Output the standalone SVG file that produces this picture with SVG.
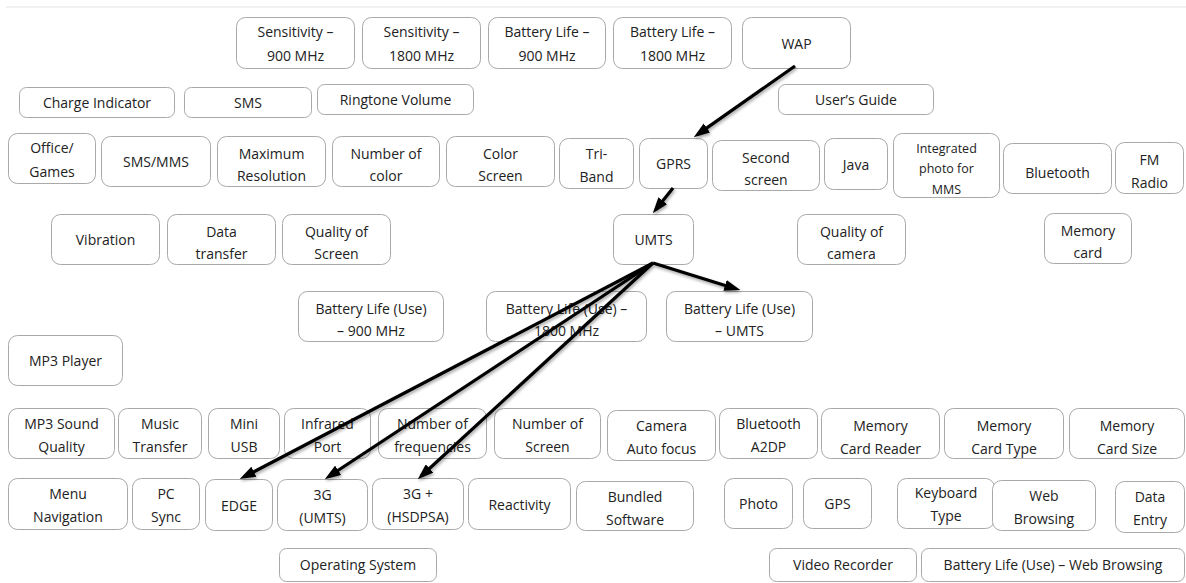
<svg xmlns="http://www.w3.org/2000/svg" width="1186" height="583" viewBox="0 0 1186 583">
<style>
.box{fill:#ffffff;stroke:#a9a9a9;stroke-width:1}
.t{font-family:"Open Sans","Liberation Sans",Arial,sans-serif;font-size:14px;fill:#222222;text-anchor:middle}
.s{font-size:12.5px}
.conn{stroke:#000;stroke-width:3.2;fill:none;marker-end:url(#ah)}
</style>
<defs>
<marker id="ah" viewBox="0 0 10 7" refX="7" refY="3.5" markerWidth="5" markerHeight="3.5" markerUnits="strokeWidth" orient="auto">
<path d="M0,0 L10,3.5 L0,7 z" fill="#000"/>
</marker>
<filter id="sh" x="-10%" y="-10%" width="120%" height="120%">
<feDropShadow dx="1" dy="2" stdDeviation="1.5" flood-color="#000" flood-opacity="0.35"/>
</filter>
</defs>
<rect x="0" y="0" width="1186" height="583" fill="#ffffff"/>
<line x1="6" y1="7" x2="1186" y2="7" stroke="#ececec" stroke-width="1.5"/>

<g id="n-sens900"><rect class="box" x="236.5" y="17.5" width="118" height="51" rx="9"/><text class="t" x="295.5" y="37">Sensitivity –</text><text class="t" x="295.5" y="61">900 MHz</text></g>
<g id="n-sens1800"><rect class="box" x="362.5" y="17.5" width="118" height="51" rx="9"/><text class="t" x="421.5" y="37">Sensitivity –</text><text class="t" x="421.5" y="61">1800 MHz</text></g>
<g id="n-bl900"><rect class="box" x="488.5" y="17.5" width="117" height="51" rx="9"/><text class="t" x="547" y="37">Battery Life –</text><text class="t" x="547" y="61">900 MHz</text></g>
<g id="n-bl1800"><rect class="box" x="613.5" y="17.5" width="118" height="51" rx="9"/><text class="t" x="672.5" y="37">Battery Life –</text><text class="t" x="672.5" y="61">1800 MHz</text></g>
<g id="n-wap"><rect class="box" x="742.5" y="17.5" width="108" height="51" rx="9"/><text class="t" x="796.5" y="49">WAP</text></g>

<g id="n-charge"><rect class="box" x="19.5" y="87.5" width="155" height="30" rx="7"/><text class="t" x="97" y="108">Charge Indicator</text></g>
<g id="n-sms"><rect class="box" x="184.5" y="87.5" width="127" height="30" rx="7"/><text class="t" x="248" y="108">SMS</text></g>
<g id="n-ringtone"><rect class="box" x="317.5" y="84.5" width="156" height="30" rx="7"/><text class="t" x="395.5" y="105">Ringtone Volume</text></g>
<g id="n-userguide"><rect class="box" x="778.5" y="84.5" width="155" height="30" rx="7"/><text class="t" x="856" y="105">User’s Guide</text></g>

<g id="n-office"><rect class="box" x="8.5" y="133.5" width="87" height="50" rx="9"/><text class="t" x="52" y="153">Office/</text><text class="t" x="52" y="177">Games</text></g>
<g id="n-smsmms"><rect class="box" x="101.5" y="136.5" width="109" height="50" rx="9"/><text class="t" x="156" y="167">SMS/MMS</text></g>
<g id="n-maxres"><rect class="box" x="217.5" y="136.5" width="108" height="50" rx="9"/><text class="t" x="271.5" y="159">Maximum</text><text class="t" x="271.5" y="181">Resolution</text></g>
<g id="n-numcolor"><rect class="box" x="332.5" y="136.5" width="107" height="50" rx="9"/><text class="t" x="386" y="159">Number of</text><text class="t" x="386" y="181">color</text></g>
<g id="n-colorscreen"><rect class="box" x="446.5" y="136.5" width="108" height="50" rx="9"/><text class="t" x="500.5" y="159">Color</text><text class="t" x="500.5" y="181">Screen</text></g>
<g id="n-triband"><rect class="box" x="559.5" y="138.5" width="74" height="50" rx="9"/><text class="t" x="596.5" y="159">Tri-</text><text class="t" x="596.5" y="182">Band</text></g>
<g id="n-gprs"><rect class="box" x="639.5" y="138.5" width="68" height="50" rx="9"/><text class="t" x="673.5" y="169">GPRS</text></g>
<g id="n-secondscreen"><rect class="box" x="712.5" y="140.5" width="107" height="50" rx="9"/><text class="t" x="766" y="163">Second</text><text class="t" x="766" y="185">screen</text></g>
<g id="n-java"><rect class="box" x="824.5" y="138.5" width="63" height="51" rx="9"/><text class="t" x="856" y="170">Java</text></g>
<g id="n-integrated"><rect class="box" x="893.5" y="133.5" width="106" height="64" rx="9"/><text class="t s" x="946.5" y="153">Integrated</text><text class="t s" x="946.5" y="173">photo for</text><text class="t s" x="946.5" y="194">MMS</text></g>
<g id="n-bluetooth"><rect class="box" x="1003.5" y="143.5" width="108" height="50" rx="9"/><text class="t" x="1057.5" y="178">Bluetooth</text></g>
<g id="n-fmradio"><rect class="box" x="1115.5" y="142.5" width="68" height="51" rx="9"/><text class="t" x="1149.5" y="165">FM</text><text class="t" x="1149.5" y="188">Radio</text></g>

<g id="n-vibration"><rect class="box" x="51.5" y="214.5" width="108" height="50" rx="9"/><text class="t" x="105.5" y="245">Vibration</text></g>
<g id="n-datatransfer"><rect class="box" x="167.5" y="214.5" width="108" height="50" rx="9"/><text class="t" x="221.5" y="237">Data</text><text class="t" x="221.5" y="259">transfer</text></g>
<g id="n-qualityscreen"><rect class="box" x="282.5" y="214.5" width="108" height="50" rx="9"/><text class="t" x="336.5" y="237">Quality of</text><text class="t" x="336.5" y="259">Screen</text></g>
<g id="n-umts"><rect class="box" x="613.5" y="214.5" width="80" height="50" rx="9"/><text class="t" x="653.5" y="245">UMTS</text></g>
<g id="n-qualitycamera"><rect class="box" x="797.5" y="214.5" width="108" height="50" rx="9"/><text class="t" x="851.5" y="237">Quality of</text><text class="t" x="851.5" y="259">camera</text></g>
<g id="n-memorycard"><rect class="box" x="1044.5" y="213.5" width="87" height="50" rx="9"/><text class="t" x="1088" y="236">Memory</text><text class="t" x="1088" y="258">card</text></g>

<g id="n-blu900"><rect class="box" x="298.5" y="291.5" width="145" height="50" rx="9"/><text class="t" x="371" y="314">Battery Life (Use)</text><text class="t" x="371" y="336">– 900 MHz</text></g>
<g id="n-blu1800"><rect class="box" x="486.5" y="291.5" width="160" height="50" rx="9"/><text class="t" x="566.5" y="314">Battery Life (Use) –</text><text class="t" x="566.5" y="336">1800 MHz</text></g>
<g id="n-bluumts"><rect class="box" x="666.5" y="291.5" width="146" height="50" rx="9"/><text class="t" x="739.5" y="314">Battery Life (Use)</text><text class="t" x="739.5" y="336">– UMTS</text></g>
<g id="n-mp3player"><rect class="box" x="8.5" y="335.5" width="114" height="50" rx="9"/><text class="t" x="65.5" y="366">MP3 Player</text></g>

<g id="n-mp3sound"><rect class="box" x="8.5" y="408.5" width="106" height="50" rx="9"/><text class="t" x="61.5" y="429">MP3 Sound</text><text class="t" x="61.5" y="452">Quality</text></g>
<g id="n-musictransfer"><rect class="box" x="118.5" y="408.5" width="83" height="50" rx="9"/><text class="t" x="160" y="429">Music</text><text class="t" x="160" y="452">Transfer</text></g>
<g id="n-miniusb"><rect class="box" x="208.5" y="408.5" width="71" height="50" rx="9"/><text class="t" x="244" y="429">Mini</text><text class="t" x="244" y="452">USB</text></g>
<g id="n-infrared"><rect class="box" x="284.5" y="408.5" width="86" height="50" rx="9"/><text class="t" x="327.5" y="429">Infrared</text><text class="t" x="327.5" y="452">Port</text></g>
<g id="n-numfreq"><rect class="box" x="378.5" y="408.5" width="108" height="50" rx="9"/><text class="t" x="432.5" y="429">Number of</text><text class="t" x="432.5" y="452">frequencies</text></g>
<g id="n-numscreen"><rect class="box" x="494.5" y="408.5" width="106" height="50" rx="9"/><text class="t" x="547.5" y="429">Number of</text><text class="t" x="547.5" y="452">Screen</text></g>
<g id="n-cameraaf"><rect class="box" x="607.5" y="410.5" width="108" height="50" rx="9"/><text class="t" x="661.5" y="431">Camera</text><text class="t" x="661.5" y="454">Auto focus</text></g>
<g id="n-bta2dp"><rect class="box" x="719.5" y="408.5" width="98" height="50" rx="9"/><text class="t" x="768.5" y="429">Bluetooth</text><text class="t" x="768.5" y="452">A2DP</text></g>
<g id="n-mcreader"><rect class="box" x="821.5" y="408.5" width="118" height="50" rx="9"/><text class="t" x="880.5" y="431">Memory</text><text class="t" x="880.5" y="454">Card Reader</text></g>
<g id="n-mctype"><rect class="box" x="944.5" y="408.5" width="119" height="50" rx="9"/><text class="t" x="1004" y="431">Memory</text><text class="t" x="1004" y="454">Card Type</text></g>
<g id="n-mcsize"><rect class="box" x="1069.5" y="408.5" width="115" height="50" rx="9"/><text class="t" x="1127" y="431">Memory</text><text class="t" x="1127" y="454">Card Size</text></g>

<g id="n-menunav"><rect class="box" x="8.5" y="478.5" width="119" height="51" rx="9"/><text class="t" x="68" y="499">Menu</text><text class="t" x="68" y="522">Navigation</text></g>
<g id="n-pcsync"><rect class="box" x="132.5" y="478.5" width="67" height="51" rx="9"/><text class="t" x="166" y="499">PC</text><text class="t" x="166" y="522">Sync</text></g>
<g id="n-edge"><rect class="box" x="205.5" y="479.5" width="67" height="51" rx="9"/><text class="t" x="239" y="511">EDGE</text></g>
<g id="n-3g"><rect class="box" x="277.5" y="479.5" width="90" height="51" rx="9"/><text class="t" x="322.5" y="500">3G</text><text class="t" x="322.5" y="523">(UMTS)</text></g>
<g id="n-3gplus"><rect class="box" x="372.5" y="478.5" width="91" height="51" rx="9"/><text class="t" x="418" y="499">3G +</text><text class="t" x="418" y="522">(HSDPSA)</text></g>
<g id="n-reactivity"><rect class="box" x="468.5" y="478.5" width="102" height="51" rx="9"/><text class="t" x="519.5" y="510">Reactivity</text></g>
<g id="n-bundled"><rect class="box" x="576.5" y="481.5" width="117" height="49" rx="9"/><text class="t" x="635" y="502">Bundled</text><text class="t" x="635" y="525">Software</text></g>
<g id="n-photo"><rect class="box" x="724.5" y="478.5" width="68" height="50" rx="9"/><text class="t" x="758.5" y="509">Photo</text></g>
<g id="n-gps"><rect class="box" x="803.5" y="478.5" width="68" height="50" rx="9"/><text class="t" x="837.5" y="509">GPS</text></g>
<g id="n-keyboard"><rect class="box" x="897.5" y="478.5" width="97" height="50" rx="9"/><text class="t" x="946" y="498">Keyboard</text><text class="t" x="946" y="521">Type</text></g>
<g id="n-web"><rect class="box" x="992.5" y="480.5" width="103" height="50" rx="9"/><text class="t" x="1044" y="501">Web</text><text class="t" x="1044" y="524">Browsing</text></g>
<g id="n-dataentry"><rect class="box" x="1115.5" y="481.5" width="69" height="51" rx="9"/><text class="t" x="1150" y="502">Data</text><text class="t" x="1150" y="525">Entry</text></g>

<g id="n-os"><rect class="box" x="279.5" y="548.5" width="157" height="33" rx="7"/><text class="t" x="358" y="570">Operating System</text></g>
<g id="n-video"><rect class="box" x="769.5" y="548.5" width="147" height="33" rx="7"/><text class="t" x="843" y="570">Video Recorder</text></g>
<g id="n-blweb"><rect class="box" x="921.5" y="548.5" width="263" height="33" rx="7"/><text class="t" x="1053" y="570">Battery Life (Use) – Web Browsing</text></g>

<g id="connectors" filter="url(#sh)">
<line class="conn" x1="795" y1="66" x2="697.7" y2="134.4"/>
<line class="conn" x1="673" y1="188" x2="655.8" y2="209.5"/>
<line class="conn" x1="653" y1="263" x2="735.7" y2="288.7"/>
<line class="conn" x1="653" y1="263" x2="244" y2="476.9"/>
<line class="conn" x1="653" y1="263" x2="328.8" y2="476.5"/>
<line class="conn" x1="653" y1="263" x2="421.3" y2="476"/>
</g>
</svg>
